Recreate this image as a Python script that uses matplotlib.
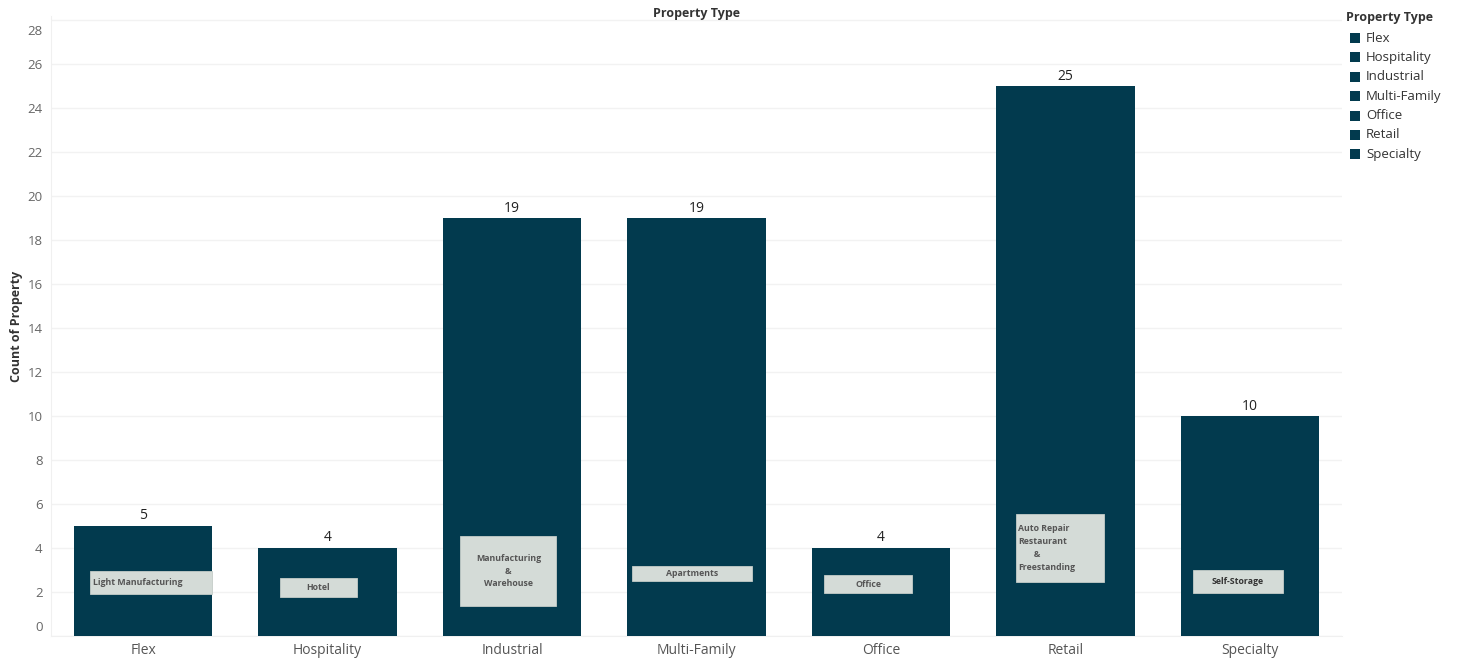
import matplotlib
matplotlib.use("Agg")
import matplotlib.pyplot as plt
from matplotlib.patches import Rectangle
from matplotlib.transforms import ScaledTranslation

# Data
categories = ["Flex", "Hospitality", "Industrial", "Multi-Family", "Office", "Retail", "Specialty"]
counts = [5, 4, 19, 19, 4, 25, 10]
subtypes = [
    "Light Manufacturing",
    "Hotel",
    "Manufacturing\n&\nWarehouse",
    "Apartments",
    "Office",
    "Auto Repair\nRestaurant\n       &\nFreestanding",
    "Self-Storage",
]
y_ticks = list(range(0, 29, 2))

BAR = "#023a4e"
BOX = "#d4dbd7"
FONT = ["Open Sans", "DejaVu Sans"]
plt.rcParams["font.family"] = FONT

fig = plt.figure(figsize=(14.72, 6.68), dpi=100)
W, H = 1472, 668
ax = fig.add_axes([51 / W, 32 / H, (1342 - 51) / W, 620 / H])

x = list(range(len(categories)))
bars = ax.bar(x, counts, width=0.75, color=BAR, zorder=3)

for xi, v in zip(x, counts):
    ax.text(xi, v + 0.12, str(v), ha="center", va="bottom", fontsize=10,
            color="#222222", zorder=5)

# Annotation boxes: (x-left offset, x-right offset, y-bottom, y-top, text x offset, align, bold)
box_layout = [
    (-0.29, 0.375, 1.90, 2.95, -0.27, "left", False),
    (-0.26, 0.16, 1.77, 2.64, -0.05, "center", False),
    (-0.28, 0.24, 1.36, 4.55, -0.03, "center", False),
    (-0.35, 0.30, 2.50, 3.20, -0.025, "center", False),
    (-0.31, 0.17, 1.95, 2.77, -0.07, "center", False),
    (-0.27, 0.21, 2.45, 5.55, -0.255, "left", False),
    (-0.31, 0.18, 1.95, 3.00, -0.065, "center", True),
]
for xi, label, (l, r, b, t, tx, al, bold) in zip(x, subtypes, box_layout):
    ax.add_patch(Rectangle((xi + l, b), r - l, t - b, facecolor=BOX,
                           edgecolor="#c4ccc8", linewidth=0.6, zorder=4))
    ax.text(xi + tx if al == "left" else xi + (l + r) / 2, (b + t) / 2, label,
            ha=al, va="center", fontsize=6.3, color="#333333" if bold else "#555555",
            fontweight="bold", linespacing=1.55, zorder=5)

ax.set_xlim(-0.5, 6.5)
ax.set_ylim(0, 28.2)
ax.set_yticks(y_ticks)
ax.set_xticks(x)
ax.set_xticklabels(categories, fontsize=10, color="#555555")
ax.tick_params(axis="y", labelsize=9.5, labelcolor="#666666", length=0, pad=6)
ax.tick_params(axis="x", length=0, pad=5)
ax.grid(axis="y", color="#f2f2f2", linewidth=1.0, zorder=0)
for s in ["top", "right"]:
    ax.spines[s].set_visible(False)
ax.spines["left"].set_color("#f0f0f0")
ax.spines["bottom"].set_color("#f0f0f0")

# Pull the end labels inward slightly
ylabels = ax.get_yticklabels()
ylabels[0].set_transform(ylabels[0].get_transform() + ScaledTranslation(0, 10 / 100, fig.dpi_scale_trans))
ylabels[-1].set_transform(ylabels[-1].get_transform() + ScaledTranslation(0, -10 / 100, fig.dpi_scale_trans))

ax.set_ylabel("Count of Property", fontsize=9, fontweight="bold", color="#333333", labelpad=3)
fig.text((51 + 1342) / 2 / W, 1 - 13 / H, "Property Type", ha="center", va="center",
         fontsize=9, fontweight="bold", color="#333333")

# Legend
fig.text(1346 / W, 1 - 18 / H, "Property Type", ha="left", va="center",
         fontsize=9, fontweight="bold", color="#333333")
for i, c in enumerate(categories):
    yy = 1 - (38 + i * 19.4) / H
    fig.patches.append(Rectangle((1350 / W, yy - 5 / H), 10 / W, 10 / H,
                                 facecolor=BAR, transform=fig.transFigure, figure=fig))
    fig.text(1366 / W, yy, c, ha="left", va="center", fontsize=9.5, color="#333333")

fig.savefig("out.png", dpi=100, facecolor="white")
